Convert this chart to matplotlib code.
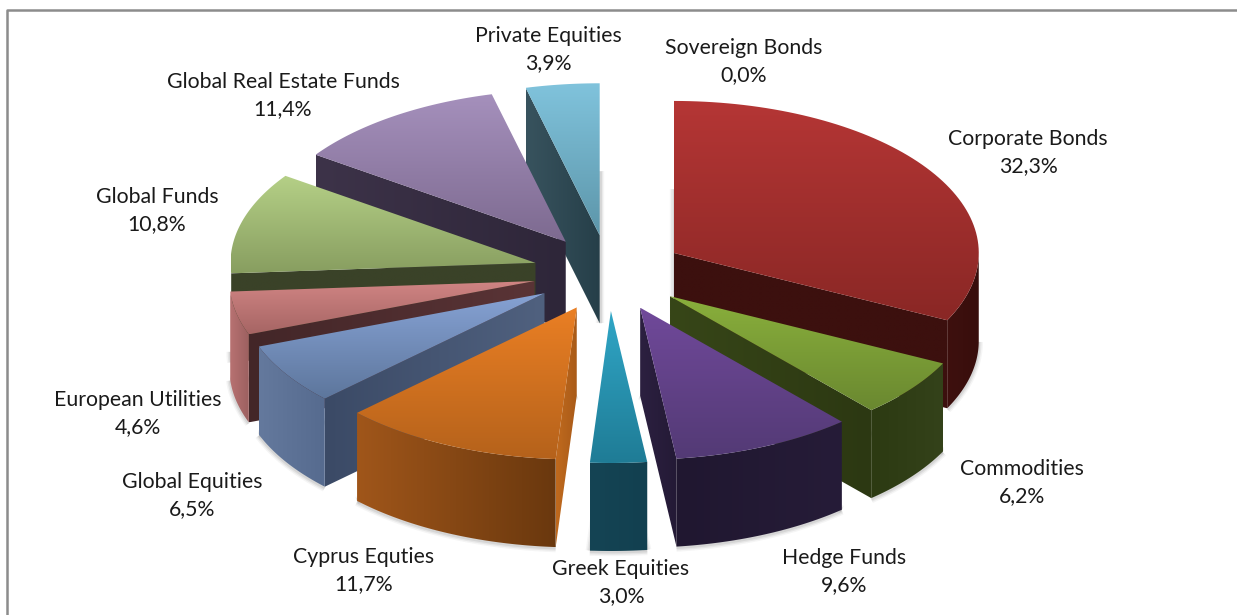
"""
Composicion de cartera: pastel 3D con porciones separadas
"""
import numpy as np
import matplotlib
matplotlib.use("Agg")
import matplotlib.pyplot as plt
from matplotlib.colors import LinearSegmentedColormap
from matplotlib.patches import Polygon

# ---------------------------------------------------------------------------
# Datos
# ---------------------------------------------------------------------------

categories = ["Sovereign Bonds", "Corporate Bonds", "Commodities", "Hedge Funds",
              "Greek Equities", "Cyprus Equties", "Global Equities",
              "European Utilities", "Global Funds", "Global Real Estate Funds",
              "Private Equities"]
values = [0.0, 32.3, 6.2, 9.6, 3.0, 11.7, 6.5, 4.6, 10.8, 11.4, 3.9]

# (arriba, abajo) de la cara superior
top_colors = ["#4f81bd", ("#b53635", "#8a2725"), ("#8ab03c", "#6a8830"),
              ("#70499a", "#533a75"), ("#30a6c6", "#1f7c96"), ("#ea7f24", "#b5621b"),
              ("#86a2d4", "#5d769c"), ("#d18584", "#a66564"), ("#b5d087", "#889e60"),
              ("#a590bc", "#7d6a90"), ("#80c3dc", "#5d96aa")]
# (izquierda, derecha) de la pared exterior
wall_colors = ["#254061", ("#3e100e", "#380e0c"), ("#2c3a12", "#34421a"),
               ("#201730", "#261c38"), ("#154454", "#124050"), ("#a0561a", "#6a380e"),
               ("#64799d", "#566b8f"), ("#b87272", "#9c6060"), ("#3c452a", "#363e26"),
               ("#3a3048", "#30283e"), ("#345560", "#2a424c")]
# paredes radiales
side_colors = ["#254061", ("#3c100e", "#3c100e"), ("#374618", "#2c3812"),
               ("#2c2040", "#241a36"), ("#154454", "#124050"), ("#c06a1e", "#a85a18"),
               ("#3b4a66", "#50617f"), ("#432628", "#5a3436"), ("#3a4228", "#3a4228"),
               ("#3d3349", "#2e2639"), ("#38535e", "#263f49")]

label_xy = [(744, 48), (1028, 139), (1022, 469), (844, 558), (621, 569), (364, 557),
            (192, 482), (138, 400), (157, 197), (283, 82), (548, 36)]

# Geometria del pastel en pixeles
CX, CY = 609, 273
RX, RY = 305, 152
EXPLODE = 0.25
DEPTH = 88


def hex_grad(c0, c1):
    return LinearSegmentedColormap.from_list("g", [c0, c1])


def fill_grad(ax, verts, colors, z, vertical=True):
    """Rellena un poligono con un degradado lineal recortado a su contorno."""
    verts = np.asarray(verts)
    x0, y0 = verts.min(axis=0)
    x1, y1 = verts.max(axis=0)
    if x1 - x0 < 0.5 or y1 - y0 < 0.5:
        return
    grad = np.linspace(0, 1, 128)
    grad = grad[:, None] if vertical else grad[None, :]
    img = ax.imshow(grad, extent=(x0, x1, y1, y0), origin="upper", cmap=hex_grad(*colors),
                    aspect="auto", zorder=z, interpolation="bilinear")
    poly = Polygon(verts, closed=True, transform=ax.transData, facecolor="none", edgecolor="none")
    ax.add_patch(poly)
    img.set_clip_path(poly)


def rim(ang, apex, dy=0.0):
    a = np.radians(ang)
    return np.column_stack((apex[0] + RX * np.sin(a), apex[1] - RY * np.cos(a) + dy))


def soft_line(ax, xs, ys, z):
    # sombra suave bajo el volumen
    for lw, alpha in ((6, 0.05), (4, 0.08), (2, 0.10)):
        ax.plot(xs, ys, color="#404040", lw=lw, alpha=alpha, zorder=z, solid_capstyle="butt")


def draw_slice(ax, ts, te, top_c, wall_c, side_c, z):
    mid = np.radians((ts + te) / 2)
    apex = np.array((CX + EXPLODE * RX * np.sin(mid), CY - EXPLODE * RY * np.cos(mid)))
    angs = np.linspace(ts, te, 80)
    top = np.vstack(([apex], rim(angs, apex)))

    # paredes radiales: las que miran al observador se rellenan, las otras solo dejan sombra
    for ang, visible in ((ts, np.sin(np.radians(ts)) < -1e-6), (te, np.sin(np.radians(te)) > 1e-6)):
        edge = rim(np.array([ang]), apex)[0]
        if not visible:
            soft_line(ax, [edge[0], apex[0]], [edge[1] + DEPTH, apex[1] + DEPTH], z)
            continue
        wall = [apex, edge, edge + [0, DEPTH], apex + [0, DEPTH]]
        fill_grad(ax, wall, side_c, z + 0.1, vertical=False)

    # pared exterior (solo la mitad frontal)
    lo, hi = max(ts, 90), min(te, 270)
    if hi > lo:
        a = np.linspace(lo, hi, 60)
        front = rim(a, apex, DEPTH)
        soft_line(ax, front[:, 0], front[:, 1] + 1, z)
        wall = np.vstack((rim(a, apex), front[::-1]))
        fill_grad(ax, wall, wall_c, z + 0.2, vertical=False)

    fill_grad(ax, top, top_c, z + 0.3)


def main():
    fig = plt.figure(figsize=(12.37, 6.15), dpi=100, facecolor="white")
    ax = fig.add_axes([0, 0, 1, 1])

    bounds = np.cumsum([0.0] + values) / 100 * 360
    slices = [i for i, v in enumerate(values) if v > 0]
    # de atras hacia adelante
    slices.sort(key=lambda i: -np.cos(np.radians((bounds[i] + bounds[i + 1]) / 2)))
    for z, i in enumerate(slices):
        draw_slice(ax, bounds[i], bounds[i + 1], top_colors[i], wall_colors[i], side_colors[i], 2 + z)

    # marco exterior
    ax.plot([6.5, 6.5, 1237], [615, 9.5, 9.5], color="#8c8c8c", lw=1.8, zorder=1)

    for name, val, (x, y) in zip(categories, values, label_xy):
        pct = f"{val:.1f}%".replace(".", ",")
        ax.text(x, y, name, ha="center", va="center", fontsize=15.3, family="Lato",
                color="#1a1a1a", zorder=50)
        ax.text(x, y + 27.5, pct, ha="center", va="center", fontsize=15.3, family="Lato",
                color="#1a1a1a", zorder=50)

    ax.set_xlim(0, 1237)
    ax.set_ylim(615, 0)
    ax.axis("off")
    fig.savefig("out.png", dpi=100, facecolor="white")
    plt.close(fig)


if __name__ == "__main__":
    main()
